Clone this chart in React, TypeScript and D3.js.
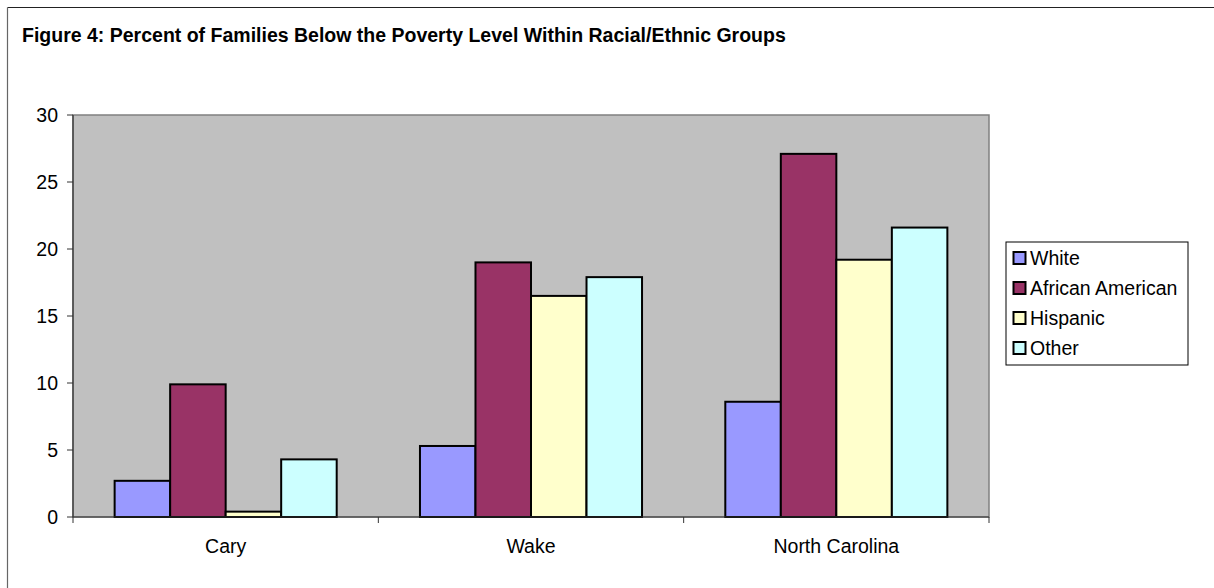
import React from "react";
import * as d3 from "d3";

const categories = ["Cary", "Wake", "North Carolina"];
const seriesNames = ["White", "African American", "Hispanic", "Other"];
const white = [2.7, 5.3, 8.6];
const africanAmerican = [9.9, 19.0, 27.1];
const hispanic = [0.4, 16.5, 19.2];
const other = [4.3, 17.9, 21.6];
const yTicks = [0, 5, 10, 15, 20, 25, 30];
const colors = ["#9999FF", "#993366", "#FFFFCC", "#CCFFFF"];

const seriesValues = [white, africanAmerican, hispanic, other];

const W = 1214;
const H = 588;
const plot = { left: 73, right: 989, top: 115, bottom: 517 };
const font = "'Liberation Sans', Arial, sans-serif";
const fs = 19.5;

export default function App() {
  const x0 = d3.scaleBand<string>().domain(categories).range([plot.left, plot.right]).paddingInner(0).paddingOuter(0);
  const x1 = d3.scaleBand<string>().domain(seriesNames).range([0, x0.bandwidth()]).paddingInner(0).paddingOuter(0.75);
  const y = d3.scaleLinear().domain([0, 30]).range([plot.bottom, plot.top]);

  const legend = { x: 1006, y: 242, w: 182, h: 123 };

  return (
    <svg width={W} height={H} style={{ position: "absolute", left: 0, top: 0, background: "#fff" }}>
      {/* outer frame */}
      <line x1={7.5} y1={7.5} x2={W + 5} y2={7.5} stroke="#222" strokeWidth={1.2} />
      <line x1={7.5} y1={7.5} x2={7.5} y2={H + 5} stroke="#666" strokeWidth={1.2} />
      <text x={22} y={42} fontFamily={font} fontSize={fs} fontWeight="bold" fill="#000">
        Figure 4: Percent of Families Below the Poverty Level Within Racial/Ethnic Groups
      </text>

      {/* plot area */}
      <rect x={plot.left} y={plot.top} width={plot.right - plot.left} height={plot.bottom - plot.top} fill="#C0C0C0" stroke="#808080" strokeWidth={1.5} />

      {/* bars */}
      {categories.map((c, ci) => (
        <g key={c}>
          {seriesNames.map((s, si) => {
            const v = seriesValues[si][ci];
            const bx = (x0(c) as number) + (x1(s) as number);
            return (
              <rect key={s} x={bx} y={y(v)} width={x1.bandwidth()} height={y(0) - y(v)} fill={colors[si]} stroke="#000" strokeWidth={2} />
            );
          })}
        </g>
      ))}

      {/* axes */}
      <line x1={plot.left} y1={plot.top} x2={plot.left} y2={plot.bottom} stroke="#333" strokeWidth={1.2} />
      <line x1={plot.left} y1={plot.bottom} x2={plot.right} y2={plot.bottom} stroke="#333" strokeWidth={1.2} />
      {yTicks.map((t) => (
        <g key={t}>
          <line x1={plot.left - 6} x2={plot.left} y1={y(t)} y2={y(t)} stroke="#333" strokeWidth={1} />
          <text x={58} y={y(t)} dy="0.35em" textAnchor="end" fontFamily={font} fontSize={fs} fill="#000">
            {t}
          </text>
        </g>
      ))}
      {[...categories.map((c) => x0(c) as number), plot.right].map((tx, i) => (
        <line key={i} x1={tx} x2={tx} y1={plot.bottom} y2={plot.bottom + 6} stroke="#333" strokeWidth={1} />
      ))}
      {categories.map((c) => (
        <text key={c} x={(x0(c) as number) + x0.bandwidth() / 2} y={546} dy="0.35em" textAnchor="middle" fontFamily={font} fontSize={fs} fill="#000">
          {c}
        </text>
      ))}

      {/* legend */}
      <rect x={legend.x} y={legend.y} width={legend.w} height={legend.h} fill="#fff" stroke="#000" strokeWidth={1} />
      {seriesNames.map((s, i) => {
        const cy = 258 + i * 30;
        return (
          <g key={s}>
            <rect x={1013.5} y={cy - 6} width={12} height={12} fill={colors[i]} stroke="#000" strokeWidth={2} />
            <text x={1030} y={cy} dy="0.35em" fontFamily={font} fontSize={fs} fill="#000">
              {s}
            </text>
          </g>
        );
      })}
    </svg>
  );
}
